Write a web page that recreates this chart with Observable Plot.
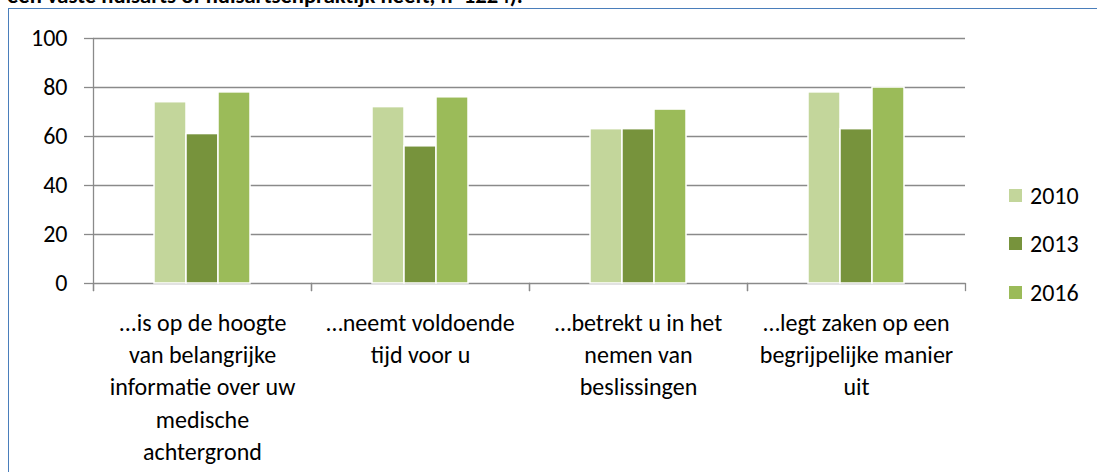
<!DOCTYPE html>
<html>
<head>
<meta charset="utf-8">
<script src="https://cdn.jsdelivr.net/npm/d3@7"></script>
<script src="https://cdn.jsdelivr.net/npm/@observablehq/plot@0.6"></script>
<style>
  html, body { margin: 0; padding: 0; background: #fff; }
  body { width: 1097px; height: 472px; position: relative; overflow: hidden; font-family: Carlito, Calibri, Lato, sans-serif; }
  #title { position: absolute; left: 7px; top: -15px; font-size: 22.6px; line-height: 20px; font-weight: bold; white-space: nowrap; color: #000; }
  #frame { position: absolute; left: 8px; top: 8px; width: 1200px; height: 600px; border-left: 1px solid #4a7ebb; border-top: 1px solid #4a7ebb; pointer-events: none; }
  #chart { position: absolute; left: 0; top: 0; }
  #legend { position: absolute; left: 1009px; top: 171px; font-size: 24px; }
  #legend .item { display: flex; align-items: center; height: 48.5px; }
  #legend .sw { width: 13px; height: 13px; margin-right: 8px; }
</style>
</head>
<body>
<div id="title">een vaste huisarts of huisartsenpraktijk heeft, n=1224).</div>
<div id="chart"></div>
<div id="legend"></div>
<div id="frame"></div>
<script>
const categories = [
  "...is op de hoogte\nvan belangrijke\ninformatie over uw\nmedische\nachtergrond",
  "…neemt voldoende\ntijd voor u",
  "…betrekt u in het\nnemen van\nbeslissingen",
  "…legt zaken op een\nbegrijpelijke manier\nuit"
];
const years = ["2010", "2013", "2016"];
const values2010 = [74, 72, 63, 78];
const values2013 = [61, 56, 63, 63];
const values2016 = [78, 76, 71, 80];
const colors = ["#c3d69b", "#77933c", "#9bbb59"];
const yTicks = [0, 20, 40, 60, 80, 100];

const series = [values2010, values2013, values2016];
const rows = [];
categories.forEach((c, i) => {
  years.forEach((y, j) => rows.push({cat: c, year: y, value: series[j][i]}));
});

const W = 1097, Hh = 472;
const mT = 38, mB = 189, mL = 92, mR = 132;
const innerH = Hh - mT - mB;
const gray = "#8a8a8a";
const font = "Carlito, Calibri, Lato, sans-serif";

const chart = Plot.plot({
  width: W,
  height: Hh,
  marginTop: mT,
  marginBottom: mB,
  marginLeft: mL,
  marginRight: mR,
  style: {background: "transparent", fontFamily: font, fontSize: "24px", color: "#000"},
  fx: {domain: categories, padding: 0, axis: null},
  x: {domain: years, paddingInner: 0, paddingOuter: 1.9, axis: null},
  y: {domain: [0, 100], axis: null},
  color: {domain: years, range: colors},
  marks: [
    Plot.gridY(yTicks, {stroke: gray, strokeOpacity: 1, strokeWidth: 1.3}),
    Plot.axisY(yTicks, {anchor: "left", tickSize: 9, tickPadding: 17, stroke: gray, strokeWidth: 1.3, fontSize: 24, fill: "#000", label: null}),
    Plot.frame({anchor: "left", fx: () => categories[0], stroke: gray, strokeWidth: 1.3, insetBottom: -7}),
    Plot.frame({anchor: "left", stroke: gray, strokeWidth: 1.3, insetTop: innerH, insetBottom: -7}),
    Plot.frame({anchor: "right", stroke: gray, strokeWidth: 1.3, insetTop: innerH, insetBottom: -7}),
    Plot.barY(rows, {fx: "cat", x: "year", y: "value", fill: "year", stroke: "white", strokeWidth: 1.5, ariaLabel: "bars"}),
    Plot.axisFx({anchor: "bottom", tickSize: 0, tickPadding: 24, fontSize: 24, lineHeight: 1.35, fill: "#000", label: null})
  ]
});
chart.querySelectorAll('g[aria-label="bars"]').forEach(g => {
  g.style.filter = "drop-shadow(1px 1px 1.5px rgba(0,0,0,0.22))";
});
document.getElementById("chart").appendChild(chart);

const legend = document.getElementById("legend");
years.forEach((y, j) => {
  const item = document.createElement("div");
  item.className = "item";
  const sw = document.createElement("span");
  sw.className = "sw";
  sw.style.background = colors[j];
  const t = document.createElement("span");
  t.textContent = y;
  item.appendChild(sw);
  item.appendChild(t);
  legend.appendChild(item);
});
</script>
</body>
</html>
